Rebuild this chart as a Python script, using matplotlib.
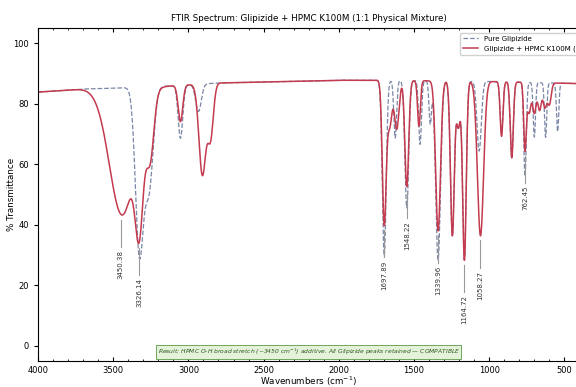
import numpy as np
import matplotlib
matplotlib.use("Agg")
import matplotlib.pyplot as plt

base_wn = [4000, 3700, 3200, 2800, 2000, 1750, 1000, 400]
base_t = [83.8, 84.8, 85.6, 86.8, 87.7, 87.7, 87.3, 86.6]

# absorption bands: centre (cm-1), depth (% T), half width (cm-1)
pure_center = [3326, 3262, 3053, 2933, 1698, 1625, 1548, 1460, 1392, 1340,
               1245, 1205, 1165, 1067, 918, 850, 762, 700, 625, 545]
pure_depth = [54, 33, 17.5, 9, 58, 19, 42, 21, 14, 59,
              51, 15, 59, 23, 17, 25, 31, 18, 18, 16]
pure_width = [31, 33, 18, 22, 15, 11, 15, 11, 10, 19,
              15, 15, 14, 17, 11, 12, 10, 9, 9, 9]

mix_center = [3440, 3326, 3255, 3053, 2907, 2853, 1698, 1662, 1615, 1548,
              1467, 1340, 1245, 1205, 1165, 1058, 918, 850, 762,
              735, 700, 665, 630, 600]
mix_depth = [42, 33.5, 21, 12, 30, 17.5, 47, 15, 16, 35,
             15, 49.5, 51, 15, 59, 51, 18, 25, 22,
             10, 10, 9, 8, 7]
mix_width = [100, 31, 30, 18, 27, 22, 15, 18, 18, 15,
             11, 19, 15, 15, 14, 24, 11, 12, 10,
             14, 14, 14, 14, 14]

label_wn = [3450.38, 3326.14, 1697.89, 1548.22, 1339.96, 1164.72, 1058.27, 762.45]

wn = np.linspace(4000, 400, 3601)
baseline = np.interp(wn, base_wn[::-1], base_t[::-1])


def spectrum(centers, depths, widths):
    t = baseline.copy()
    for c, d, w in zip(centers, depths, widths):
        t -= d * np.exp(-np.log(2) * ((wn - c) / w) ** 2)
    return t


pure = spectrum(pure_center, pure_depth, pure_width)
mix = spectrum(mix_center, mix_depth, mix_width)

fig = plt.figure(figsize=(5.76, 3.87), dpi=100)
ax = fig.add_axes([0.066, 0.067, 0.94, 0.861])

ax.plot(wn, pure, color="#7a86a8", lw=0.9, ls="--", label="Pure Glipizide")
ax.plot(wn, mix, color="#c43a4e", lw=1.1, label="Glipizide + HPMC K100M (1:1)")

for lw_ in label_wn:
    near = np.abs(wn - lw_) < 20
    tmin = mix[near].min()
    ax.plot([lw_, lw_], [tmin - 1.5, tmin - 10.5], color="#999999", lw=0.8)
    ax.text(lw_, tmin - 11.5, f"{lw_:.2f}", rotation=90, ha="center", va="top",
            fontsize=5, color="#333333")

ax.set_xlim(4000, 400)
ax.set_ylim(-5, 105)
ax.set_xticks([4000, 3500, 3000, 2500, 2000, 1500, 1000, 500])
ax.set_yticks([0, 20, 40, 60, 80, 100])
ax.minorticks_on()
ax.yaxis.set_minor_locator(matplotlib.ticker.NullLocator())
ax.tick_params(axis="x", which="both", direction="in", top=True, labelsize=6)
ax.tick_params(axis="y", labelsize=6)
ax.tick_params(which="major", length=3)
ax.tick_params(which="minor", length=1.5)

ax.set_title("FTIR Spectrum: Glipizide + HPMC K100M (1:1 Physical Mixture)",
             fontsize=6.3, pad=5)
ax.set_xlabel("Wavenumbers (cm$^{-1}$)", fontsize=6.3, labelpad=0)
ax.set_ylabel("% Transmittance", fontsize=6.3)
ax.yaxis.set_label_coords(-0.041, 0.5)

ax.legend(loc="upper right", bbox_to_anchor=(1.03, 0.995), fontsize=5,
          handlelength=2.2, framealpha=0.9)

ax.text(0.5, 0.012,
        "Result: HPMC O-H broad stretch (~3450 cm$^{-1}$) additive. "
        "All Glipizide peaks retained \u2014 COMPATIBLE",
        transform=ax.transAxes, ha="center", va="bottom", fontsize=4.3,
        style="italic", color="#2d5a1e",
        bbox=dict(boxstyle="square,pad=0.25", facecolor="#e3f2d9",
                  edgecolor="#5a9a45", lw=0.6))

fig.savefig("out.png", dpi=100)
